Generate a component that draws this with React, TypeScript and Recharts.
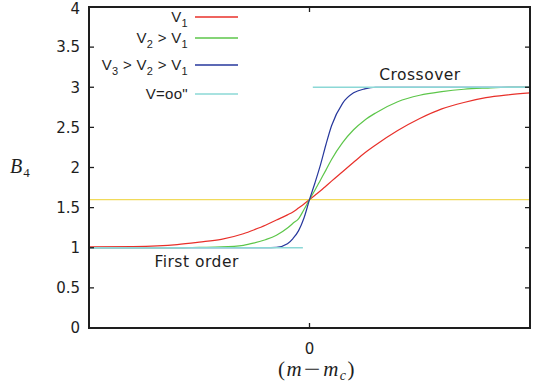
import React from "react";
import { LineChart, Line, XAxis, YAxis, ReferenceLine, ReferenceDot, Legend } from "recharts";

// x is (m - m_c), arbitrary units; B4
const xs = [-1, -0.8, -0.6, -0.5, -0.4, -0.3, -0.25, -0.2, -0.15, -0.1, -0.075, -0.05, -0.025, 0,
  0.025, 0.05, 0.075, 0.1, 0.15, 0.2, 0.25, 0.3, 0.4, 0.5, 0.6, 0.7, 0.8, 0.9, 1];
const v1 = [1.01, 1.015, 1.04, 1.07, 1.105, 1.175, 1.225, 1.28, 1.345, 1.41, 1.445, 1.495, 1.545, 1.6,
  1.655, 1.71, 1.77, 1.83, 1.947, 2.065, 2.18, 2.28, 2.46, 2.61, 2.73, 2.81, 2.87, 2.905, 2.93];
const v2 = [1.0, 1.0, 1.0, 1.005, 1.01, 1.03, 1.06, 1.1, 1.155, 1.245, 1.305, 1.36, 1.476, 1.6,
  1.72, 1.845, 1.97, 2.1, 2.31, 2.47, 2.59, 2.68, 2.82, 2.9, 2.945, 2.975, 2.99, 3.0, 3.0];
const v3 = [1.0, 1.0, 1.0, 1.0, 1.0, 1.0, 1.0, 1.0, 1.005, 1.05, 1.115, 1.21, 1.37, 1.6,
  1.81, 2.035, 2.29, 2.52, 2.8, 2.93, 2.98, 3.0, 3.0, 3.0, 3.0, 3.0, 3.0, 3.0, 3.0];

const firstOrderX = [-1, -0.03];
const firstOrderY = [1, 1];
const crossoverX = [0.015, 1];
const crossoverY = [3, 3];
const fixedPoint = 1.6;

const seriesNames = ["V_1", "V_2 > V_1", "V_3 > V_2 > V_1", 'V=oo"'];
const yTicks = [0, 0.5, 1, 1.5, 2, 2.5, 3, 3.5, 4];
const xTicks = [0];
const xDomain = [-1, 1];
const yDomain = [0, 4];

const noteText = ["Crossover", "First order"];
const noteX = [0.501, -0.512];
const noteY = [3.165, 0.83];

const data = xs.map((x, i) => ({ x, v1: v1[i], v2: v2[i], v3: v3[i] }));
const firstOrder = firstOrderX.map((x, i) => ({ x, inf: firstOrderY[i] }));
const crossover = crossoverX.map((x, i) => ({ x, inf: crossoverY[i] }));

const SANS = "'Liberation Sans', Arial, Helvetica, sans-serif";
const WIDE = "'DejaVu Sans', Verdana, sans-serif";
const SERIF = "'Liberation Serif', 'DejaVu Serif', serif";
const INK = "#1e1e1e";
const TICK_LEN = 5;
const legendRowY = [17, 38, 65, 93.5];

// plot box (chart margins + axis sizes)
const W = 533;
const H = 390;
const M = { top: 7, right: 3, bottom: 32, left: 0 };
const Y_AXIS_W = 89;
const X_AXIS_H = 30;
const PLOT = {
  left: M.left + Y_AXIS_W,
  top: M.top,
  width: W - M.left - Y_AXIS_W - M.right,
  height: H - M.top - M.bottom - X_AXIS_H,
};

function withSubs(label: string) {
  const parts = label.split(/_(\d)/);
  return parts.map((p, i) =>
    i % 2 === 1 ? (
      <span key={i} style={{ fontSize: 11, position: "relative", top: 5 }}>{p}</span>
    ) : (
      <span key={i}>{p}</span>
    )
  );
}

function LegendBox({ payload }: any) {
  const items = (payload || [])
    .filter((p: any) => p.type !== "none" && seriesNames.includes(p.value))
    .sort((a: any, b: any) => seriesNames.indexOf(a.value) - seriesNames.indexOf(b.value));
  return (
    <div style={{ position: "relative", width: 160, height: 110, fontFamily: SANS, color: INK }}>
      {items.map((p: any, i: number) => (
        <div
          key={p.value}
          style={{
            position: "absolute",
            top: legendRowY[i] - 10,
            left: 0,
            height: 20,
            display: "flex",
            alignItems: "center",
          }}
        >
          <div style={{ width: 98, textAlign: "right", fontSize: 15, lineHeight: "20px", whiteSpace: "nowrap", letterSpacing: 0.3 }}>
            {withSubs(p.value)}
          </div>
          <svg width={45} height={4} style={{ marginLeft: 7, display: "block" }}>
            <line x1={0} x2={43} y1={2} y2={2} stroke={p.color} strokeWidth={1.3} />
          </svg>
        </div>
      ))}
    </div>
  );
}

// gnuplot-style frame: box with inward ticks on all four sides
function Frame() {
  const { left, top, width, height } = PLOT;
  const py = (v: number) => top + height * (1 - (v - yDomain[0]) / (yDomain[1] - yDomain[0]));
  const px = (v: number) => left + width * ((v - xDomain[0]) / (xDomain[1] - xDomain[0]));
  return (
    <>
      <div
        style={{
          position: "absolute",
          left: left - 1,
          top: top - 1,
          width: width + 2,
          height: height + 2,
          boxSizing: "border-box",
          border: `2px solid ${INK}`,
          pointerEvents: "none",
        }}
      />
      <svg width={W} height={H} style={{ position: "absolute", left: 0, top: 0, pointerEvents: "none" }}>
        <g stroke={INK} strokeWidth={1.3}>
          {yTicks.slice(1, -1).map((t) => (
            <g key={"y" + t}>
              <line x1={left} x2={left + TICK_LEN} y1={py(t)} y2={py(t)} />
              <line x1={left + width - TICK_LEN} x2={left + width} y1={py(t)} y2={py(t)} />
            </g>
          ))}
          {xTicks.map((t) => (
            <g key={"x" + t}>
              <line x1={px(t)} x2={px(t)} y1={top} y2={top + TICK_LEN} />
              <line x1={px(t)} x2={px(t)} y1={top + height - TICK_LEN} y2={top + height} />
            </g>
          ))}
        </g>
      </svg>
    </>
  );
}

export default function App() {
  const tick = { fontSize: 15, fill: INK, fontFamily: WIDE };
  const axisLine = { stroke: INK, strokeWidth: 2 };
  return (
    <div style={{ position: "absolute", left: 0, top: 0, width: W, height: H, background: "#fff" }}>
      <LineChart width={W} height={H} data={data} margin={M} style={{ fontFamily: SANS }}>
        <XAxis
          dataKey="x"
          type="number"
          domain={xDomain}
          ticks={xTicks}
          height={X_AXIS_H}
          tick={tick}
          tickSize={-TICK_LEN}
          tickMargin={20}
          axisLine={axisLine}
          tickLine={false}
        />
        <YAxis
          type="number"
          domain={yDomain}
          ticks={yTicks}
          width={Y_AXIS_W}
          tick={tick}
          tickSize={-TICK_LEN}
          tickMargin={14}
          axisLine={axisLine}
          tickLine={false}
        />
        <ReferenceLine y={fixedPoint} stroke="#f1da5a" strokeWidth={1.3} />
        <Line type="monotone" dataKey="v1" name={seriesNames[0]} stroke="#e8302a" strokeWidth={1.2} dot={false} isAnimationActive={false} />
        <Line type="monotone" dataKey="v2" name={seriesNames[1]} stroke="#5dc64a" strokeWidth={1.2} dot={false} isAnimationActive={false} />
        <Line type="monotone" dataKey="v3" name={seriesNames[2]} stroke="#26379c" strokeWidth={1.2} dot={false} isAnimationActive={false} />
        <Line data={firstOrder} type="linear" dataKey="inf" name={seriesNames[3]} stroke="#8bd8d6" strokeWidth={1.4} dot={false} isAnimationActive={false} />
        <Line data={crossover} type="linear" dataKey="inf" name="crossover" legendType="none" stroke="#8bd8d6" strokeWidth={1.4} dot={false} isAnimationActive={false} />
        {noteText.map((t, i) => (
          <ReferenceDot
            key={t}
            x={noteX[i]}
            y={noteY[i]}
            r={0}
            fill="none"
            stroke="none"
            label={{ value: t, position: "center", fontSize: 15.5, fill: INK, fontFamily: WIDE, letterSpacing: 0.5 }}
          />
        ))}
        <Legend
          layout="vertical"
          align="center"
          verticalAlign="middle"
          wrapperStyle={{ left: 90, top: 0, width: 160, height: 110 }}
          content={<LegendBox />}
        />
      </LineChart>
      <Frame />
      <div
        style={{
          position: "absolute",
          left: 10,
          top: 155,
          fontFamily: SERIF,
          fontStyle: "italic",
          fontSize: 20,
          color: INK,
          lineHeight: "22px",
          whiteSpace: "nowrap",
        }}
      >
        B<span style={{ fontStyle: "normal", fontSize: 13, position: "relative", top: 4, marginLeft: 1 }}>4</span>
      </div>
      <div
        style={{
          position: "absolute",
          left: 278,
          top: 358,
          fontFamily: SERIF,
          fontSize: 21,
          color: INK,
          lineHeight: "23px",
          whiteSpace: "nowrap",
          letterSpacing: 1.5,
        }}
      >
        (<i>m</i>
        <span style={{ display: "inline-block", width: 20, textAlign: "center", transform: "scaleX(1.4)" }}>−</span>
        <i>m</i>
        <i style={{ fontSize: 14, position: "relative", top: 4 }}>c</i>)
      </div>
    </div>
  );
}
